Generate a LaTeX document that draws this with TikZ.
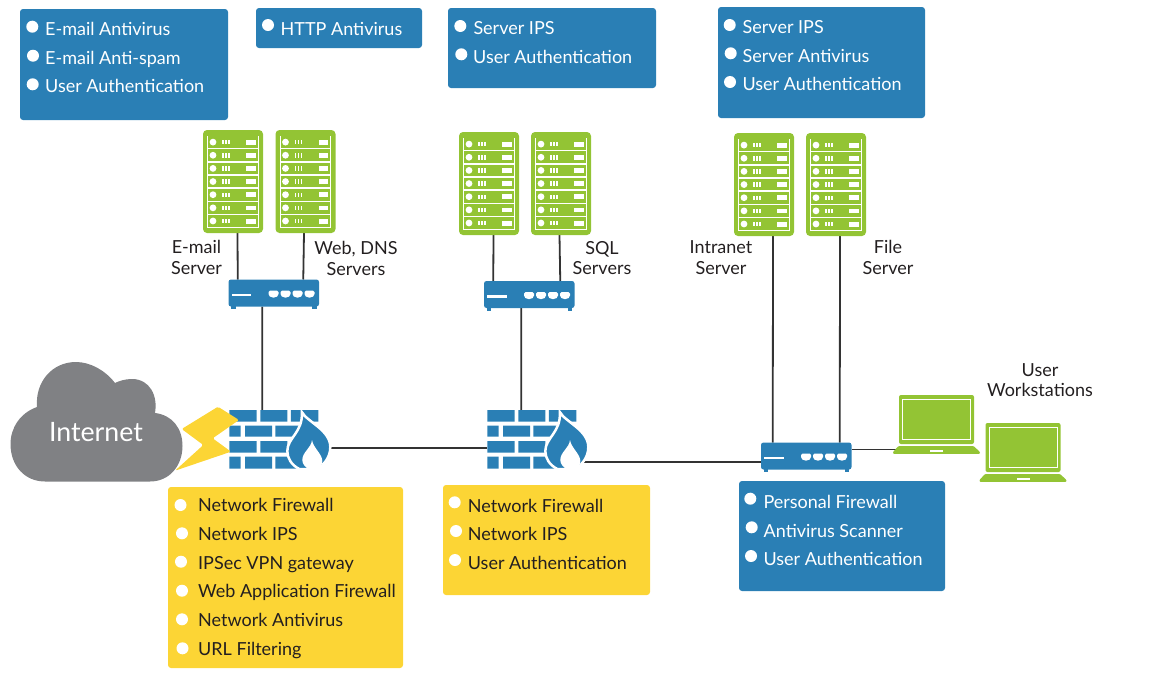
\documentclass[tikz,border=0pt]{standalone}
\usepackage{fontspec}
\setmainfont{Lato}
\usetikzlibrary{calc}
\definecolor{boxblue}{HTML}{2A7FB5}
\definecolor{boxyellow}{HTML}{FCD535}
\definecolor{srvgreen}{HTML}{93C434}
\definecolor{cloudgray}{HTML}{808184}
\definecolor{linkgray}{HTML}{333333}
\definecolor{inktext}{HTML}{231F20}
\tikzset{
  x=1pt,y=-1pt,
  panel/.style={anchor=north west,rounded corners=3pt,inner sep=0pt,outer sep=0pt,minimum width=#1},
  bluepanel/.style={panel=#1,fill=boxblue},
  yellowpanel/.style={panel=#1,fill=boxyellow},
  itemtext/.style={anchor=base west,inner sep=0pt,font=\fontsize{18}{18}\selectfont},
  caption/.style={align=center,inner sep=0pt,text=inktext,font=\fontsize{18}{20.8}\selectfont},
  link/.style={draw=linkgray,line width=1.8pt},
  rackbody/.style={anchor=north west,fill=srvgreen,rounded corners=4pt,minimum width=60pt,minimum height=103pt,inner sep=0pt,outer sep=0pt},
  routerbody/.style={anchor=north west,fill=boxblue,rounded corners=2.5pt,minimum width=90.5pt,minimum height=27pt,inner sep=0pt,outer sep=0pt},
  wallbody/.style={anchor=north west,minimum width=89pt,minimum height=59pt,inner sep=0pt,outer sep=0pt},
  rackart/.pic={
    \node[rackbody] (-body) at (0,0) {};
    \fill[white] (4.3,5.5) rectangle (55.7,98.2);
    \foreach \r in {0,...,6}{
      \fill[srvgreen] (5.2,{6.3+13.15*\r}) rectangle (54.8,{18+13.15*\r});
      \fill[white] (10,{12.1+13.15*\r}) circle (3.4);
      \fill[white] (19,{10+13.15*\r}) rectangle (20.5,{14.4+13.15*\r});
      \fill[white] (22.2,{10+13.15*\r}) rectangle (23.7,{14.4+13.15*\r});
      \fill[white] (25.4,{10+13.15*\r}) rectangle (26.9,{14.4+13.15*\r});
      \fill[white] (43,{9.8+13.15*\r}) rectangle (52.5,{14.6+13.15*\r});
    }
  },
  routerart/.pic={
    \fill[boxblue] (2.5,25) rectangle (7,29.5);
    \fill[boxblue] (83.5,25) rectangle (88,29.5);
    \node[routerbody] (-body) at (0,0) {};
    \fill[white] (3,14) rectangle (22.5,16.5);
    \foreach \p in {0,...,3}{
      \fill[white,rounded corners=1.5pt] ({40+12*\p},11) -- ({50+12*\p},11) -- ({50+12*\p},16) -- ({47+12*\p},18) -- ({43+12*\p},18) -- ({40+12*\p},16) -- cycle;
    }
  },
  wallart/.pic={
    \node[wallbody] (-body) at (0,0) {};
    \fill[boxblue] (0,0) rectangle (27.4,11.7) (31,0) rectangle (58,11.7) (61.5,0) rectangle (89,11.7);
    \fill[boxblue] (0,15.7) rectangle (11.4,26.7) (15.7,15.7) rectangle (42.7,26.7) (46,15.7) rectangle (73,26.7);
    \fill[boxblue] (0,31) rectangle (27.4,42.7) (31,31) rectangle (58,42.7) (61.5,31) rectangle (89,42.7);
    \fill[boxblue] (0,46.7) rectangle (11.4,58.5) (15.7,46.7) rectangle (42.7,58.5) (46,46.7) rectangle (73,58.5);
    \path[fill=boxblue,draw=white,line width=2.5pt] (72.5,2) .. controls (78,12) and (101,20) .. (101,37) .. controls (101,48) and (94,55) .. (88,59) -- (70,59) .. controls (62,55) and (58,48) .. (58,41) .. controls (58,28) and (74,22) .. (72.5,2) -- cycle;
    \fill[white] (82.7,30) .. controls (84,38) and (93,44) .. (93,51) .. controls (93,55) and (90,58) .. (87,59) -- (79,59) .. controls (76,57) and (73,54) .. (73,50) .. controls (73,42) and (82,38) .. (82.7,30) -- cycle;
    \fill[white] (60,59.2) rectangle (102,62);
  },
  laptopart/.pic={
    \node[anchor=north west,fill=srvgreen,rounded corners=2pt,minimum width=75pt,minimum height=49pt,inner sep=0pt,outer sep=0pt] (-body) at (6,0) {};
    \draw[white,line width=1pt] (9.5,4) rectangle (77.5,44.5);
    \fill[srvgreen,rounded corners=1pt] (5.5,51) -- (80.5,51) -- (87,57) -- (87,58.8) -- (0,58.8) -- (0,57) -- cycle;
    \fill[white] (37,55) rectangle (50,56.5);
  },
}
% bullet x, bullet y, text x, text baseline, colour, text
\newcommand{\bulletitem}[6]{%
  \fill[white] (#1,#2) circle (6);
  \node[itemtext,text=#5] at (#3,#4) {#6};}
\begin{document}
\begin{tikzpicture}
\useasboundingbox (0,0) rectangle (1157,694);
% panels
\node[bluepanel=208pt,minimum height=111pt] (p1) at (20,9) {};
\node[bluepanel=166pt,minimum height=40pt] (p2) at (256,8) {};
\node[bluepanel=208pt,minimum height=80pt] (p3) at (448,8) {};
\node[bluepanel=207pt,minimum height=111pt] (p4) at (718,7) {};
\node[bluepanel=206pt,minimum height=110pt] (p5) at (739,481) {};
\node[yellowpanel=235pt,minimum height=181pt] (p6) at (168,487) {};
\node[yellowpanel=207pt,minimum height=110pt] (p7) at (443,485) {};
% panel items
\bulletitem{32.3}{26.7}{45}{35}{white}{E-mail Antivirus}
\bulletitem{33}{55.7}{45}{64.4}{white}{E-mail Anti-spam}
\bulletitem{32.7}{84.3}{45}{92.3}{white}{User Authentication}
\bulletitem{268}{25}{280.5}{35}{white}{HTTP Antivirus}
\bulletitem{460.3}{26}{473.3}{34.5}{white}{Server IPS}
\bulletitem{461.3}{54.3}{473}{63}{white}{User Authentication}
\bulletitem{729.7}{25}{742.5}{33.5}{white}{Server IPS}
\bulletitem{730.7}{53.3}{742.5}{62.5}{white}{Server Antivirus}
\bulletitem{730}{82}{742.3}{90.3}{white}{User Authentication}
\bulletitem{750.3}{498.7}{763.3}{508}{white}{Personal Firewall}
\bulletitem{751.7}{527.3}{763.5}{537.3}{white}{Antivirus Scanner}
\bulletitem{751}{556}{763.3}{565.3}{white}{User Authentication}
\bulletitem{180.5}{505}{198}{511.8}{inktext}{Network Firewall}
\bulletitem{182}{533.3}{198}{540.1}{inktext}{Network IPS}
\bulletitem{181}{561.7}{198}{569}{inktext}{IPSec VPN gateway}
\bulletitem{182}{590.7}{198}{597.8}{inktext}{Web Application Firewall}
\bulletitem{182}{619.3}{198}{626.5}{inktext}{Network Antivirus}
\bulletitem{182.5}{648.3}{198}{655.1}{inktext}{URL Filtering}
\bulletitem{454.7}{502.3}{467.7}{512}{inktext}{Network Firewall}
\bulletitem{456}{531}{467.7}{540.3}{inktext}{Network IPS}
\bulletitem{455}{560}{467.7}{569}{inktext}{User Authentication}
% invisible anchors for connectors, drawn first so that icons cover line ends
\node[rackbody,fill=none] (a1) at (203,130) {};
\node[rackbody,fill=none] (a2) at (275.5,130) {};
\node[rackbody,fill=none] (a3) at (459,132) {};
\node[rackbody,fill=none] (a4) at (531,132) {};
\node[rackbody,fill=none] (a5) at (734,133) {};
\node[rackbody,fill=none] (a6) at (806,133) {};
\node[routerbody,fill=none] (s1) at (228.5,279.5) {};
\node[routerbody,fill=none] (s2) at (484,281) {};
\node[routerbody,fill=none] (s3) at (761,442.5) {};
\node[wallbody] (w1) at (229.3,410) {};
\node[wallbody] (w2) at (487.3,410) {};
\node[anchor=north west,minimum width=75pt,minimum height=49pt,inner sep=0pt,outer sep=0pt] (l1) at (899,395) {};
% connectors
\draw[link] ([xshift=4.5pt]a1.south) -- ([xshift=-36pt]s1.north);
\draw[link] ([xshift=-1.5pt]a2.south) -- ([xshift=29.5pt]s1.north);
\draw[link] ([xshift=4.5pt]a3.south) -- ([xshift=-36pt]s2.north);
\draw[link] ([xshift=-1.5pt]a4.south) -- ([xshift=31pt]s2.north);
\draw[link] ([xshift=9pt]a5.south) -- ([xshift=-33.5pt]s3.north);
\draw[link] ([xshift=4pt]a6.south) -- ([xshift=33.5pt]s3.north);
\draw[link] ([xshift=-11.5pt]s1.south) -- ([xshift=-11.5pt]w1.north);
\draw[link] ([xshift=-8pt]s2.south) -- ([xshift=-10.5pt]w2.north);
\draw[link] ([yshift=-8.5pt]w1.east) -- ([yshift=-8.5pt]w2.west);
\draw[link] ([yshift=-22.5pt]w2.east) -- ([yshift=-6pt]s3.west);
\draw[link] ([yshift=6.5pt]s3.east) -- ([yshift=-30pt]l1.west);
% icons
\pic (r1) at (203,130) {rackart};
\pic (r2) at (275.5,130) {rackart};
\pic (r3) at (459,132) {rackart};
\pic (r4) at (531,132) {rackart};
\pic (r5) at (734,133) {rackart};
\pic (r6) at (806,133) {rackart};
\pic (t1) at (228.5,279.5) {routerart};
\pic (t2) at (484,281) {routerart};
\pic (t3) at (761,442.5) {routerart};
\pic (f1) at (229.3,410) {wallart};
\pic (f2) at (487.3,410) {wallart};
\pic (n1) at (893,395) {laptopart};
\pic (n2) at (979.5,423) {laptopart};
% cloud
\fill[cloudgray] (45,481.5) -- (150,481.5)
  .. controls (170,481.5) and (182.5,465) .. (182.5,446)
  .. controls (182.5,428) and (172,415) .. (155,413)
  .. controls (158,396) and (150,379) .. (132,379)
  .. controls (125,379) and (119,381) .. (115,383)
  .. controls (105,370) and (90,362) .. (76,362)
  .. controls (52,362) and (35,382) .. (37,407)
  .. controls (20,413) and (10.5,428) .. (10.5,444)
  .. controls (10.5,466) and (25,481.5) .. (45,481.5) -- cycle;
\node[inner sep=0pt,text=white,font=\fontsize{26.7}{26.7}\selectfont] (inet) at (96,432) {Internet};
% bolt
\fill[boxyellow,rounded corners=1.5pt] (181.7,429) -- (218,406.7) -- (239,420) -- (212.7,438.3) -- (231,451.7) -- (175,470.7) -- (203.3,445) -- cycle;
% captions
\node[caption] (c1) at (196.5,257.2) {E-mail\\Server};
\node[caption] (c2) at (356,258.1) {Web, DNS\\Servers};
\node[caption] (c3) at (602,258.1) {SQL\\Servers};
\node[caption] (c4) at (721,257.6) {Intranet\\Server};
\node[caption] (c5) at (888,257.6) {File\\Server};
\node[caption] (c6) at (1040,380.2) {User\\Workstations};
\end{tikzpicture}
\end{document}
